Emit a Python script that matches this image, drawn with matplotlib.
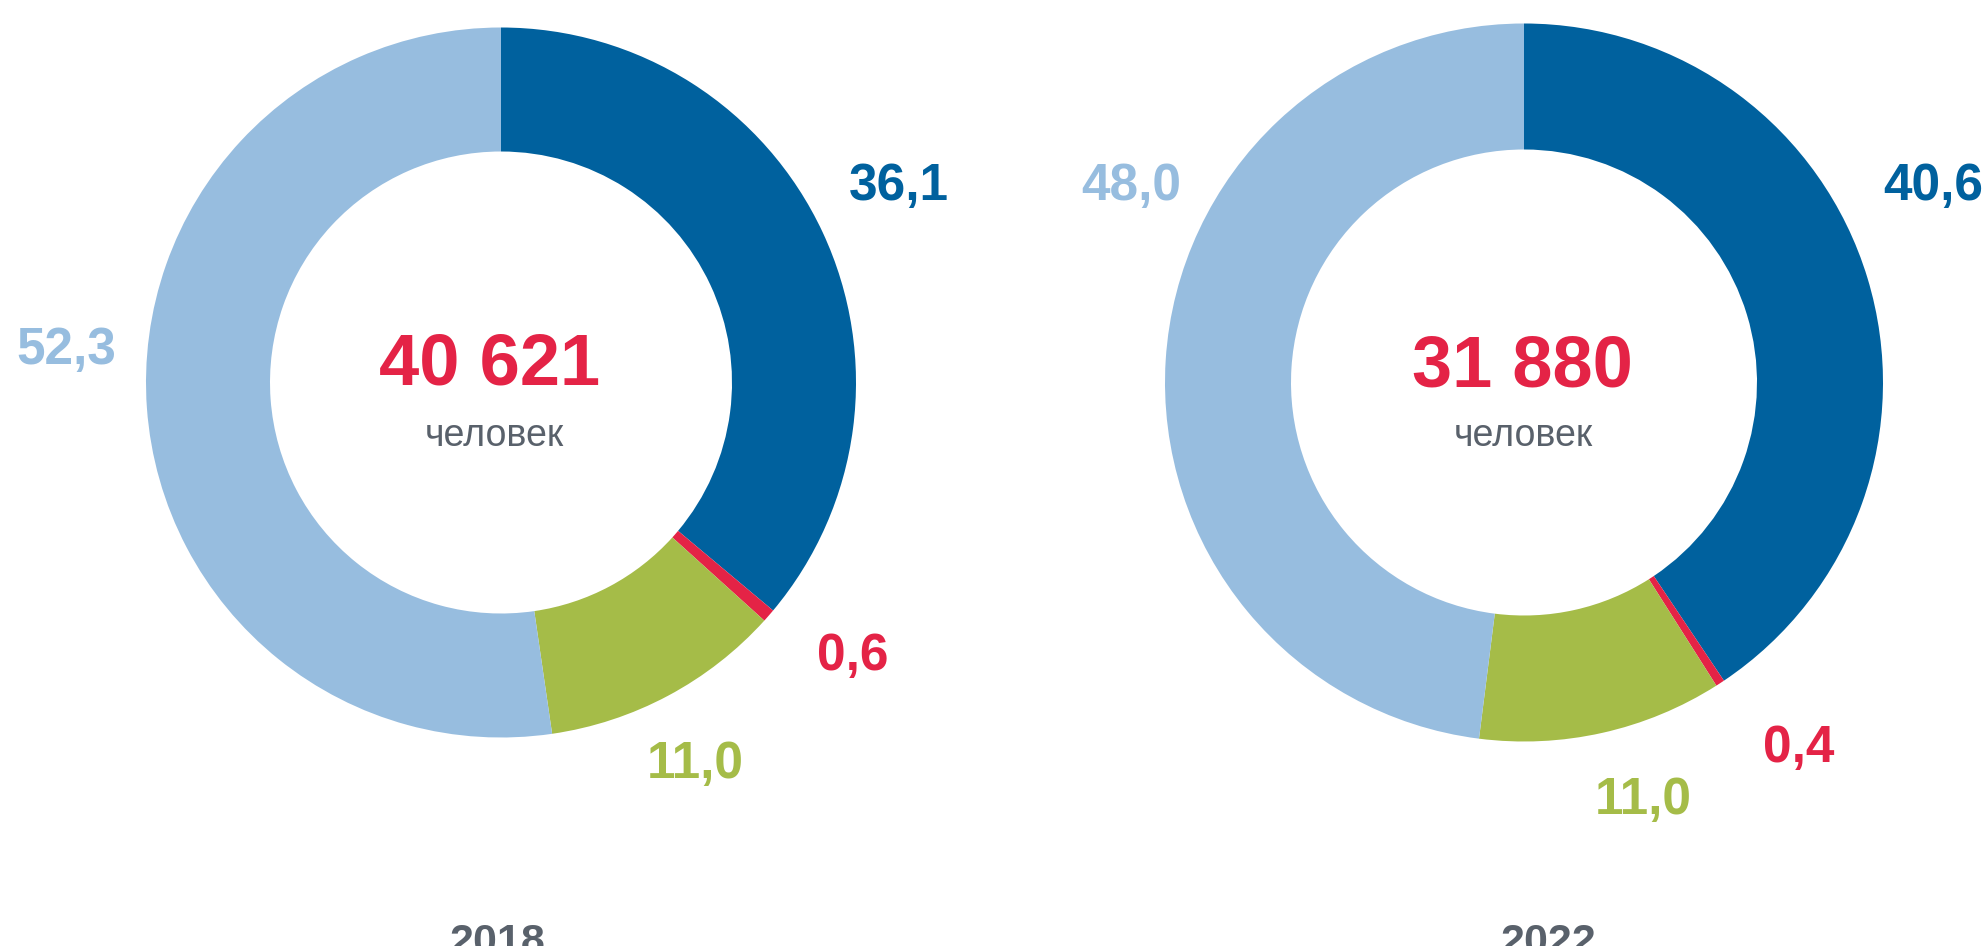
import matplotlib
matplotlib.use("Agg")
import matplotlib.pyplot as plt

# ---- data ----
categories = ["A", "B", "C", "D"]
values_2018 = [36.1, 0.6, 11.0, 52.3]
values_2022 = [40.6, 0.4, 11.0, 48.0]
labels_2018 = ["36,1", "0,6", "11,0", "52,3"]
labels_2022 = ["40,6", "0,4", "11,0", "48,0"]
totals = ["40 621", "31 880"]
years = ["2018", "2022"]
unit = "человек"

# ---- style ----
colors = ["#00619E", "#E42346", "#A5BC48", "#97BDDF"]
grey = "#59616B"
red = "#E42346"
FONT = "Liberation Sans"

W, H = 1986, 946
fig = plt.figure(figsize=(W / 100, H / 100), dpi=100)
ax = fig.add_axes([0, 0, 1, 1])

# layout (pixel coordinates, y measured from top)
donuts = [
    dict(cx=501, cy=382.5, r_out=355, r_in=231,
         label_off=[(398, 196.5), (352, -274.5), (194, -381.5), (-435, 32.5)],
         total_off=(-11, 17), unit_off=(-7, -54), year_x=497),
    dict(cx=1524, cy=382.5, r_out=359, r_in=233,
         label_off=[(409, 196.5), (275, -366.5), (119, -418.5), (-393, 195.5)],
         total_off=(-2, 15), unit_off=(-1, -54), year_x=1548),
]

for d, vals, labs, tot, yr in zip(donuts, [values_2018, values_2022],
                                  [labels_2018, labels_2022], totals, years):
    cx, cy = d["cx"], H - d["cy"]
    ax.pie(vals, colors=colors, startangle=90, counterclock=False,
           radius=d["r_out"], center=(cx, cy),
           wedgeprops=dict(width=d["r_out"] - d["r_in"], linewidth=0))
    for (dx, dy), lab, col in zip(d["label_off"], labs, colors):
        ax.text(cx + dx, cy + dy, lab, color=col, fontsize=37,
                fontweight="bold", family=FONT, ha="center", va="center")
    ax.text(cx + d["total_off"][0], cy + d["total_off"][1], tot, color=red,
            fontsize=52, fontweight="bold", family=FONT, ha="center", va="center")
    ax.text(cx + d["unit_off"][0], cy + d["unit_off"][1], unit, color=grey,
            fontsize=27, family=FONT, ha="center", va="center")
    ax.text(d["year_x"], -8, yr, color=grey, fontsize=31, fontweight="bold",
            family=FONT, ha="center", va="baseline", clip_on=False)

ax.set_xlim(0, W)
ax.set_ylim(0, H)
ax.set_aspect("equal")
ax.axis("off")

fig.savefig("out.png", dpi=100)
